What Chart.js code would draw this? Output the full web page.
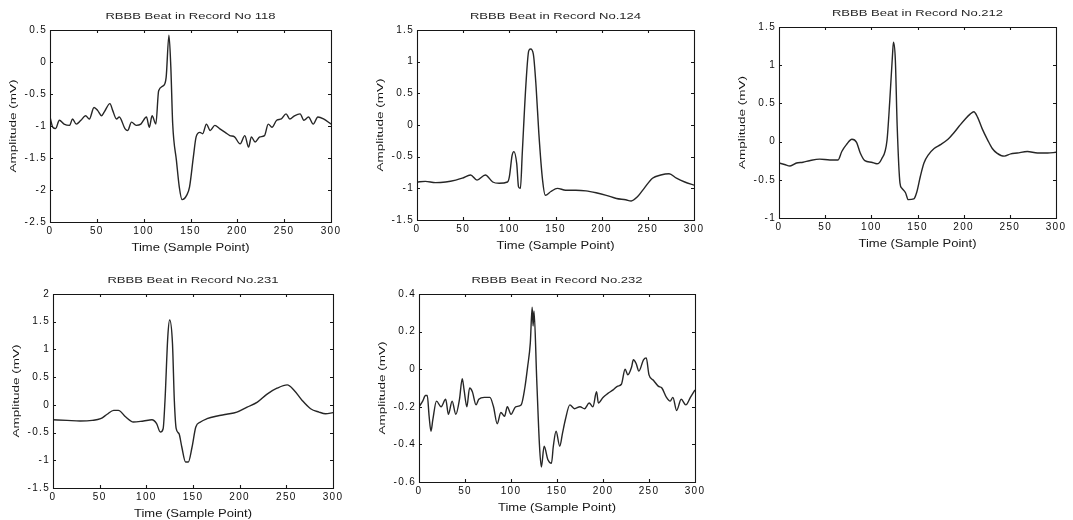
<!DOCTYPE html>
<html>
<head>
<meta charset="utf-8">
<script src="https://cdn.jsdelivr.net/npm/chart.js@4/dist/chart.umd.min.js"></script>
<style>
  html, body { margin: 0; padding: 0; background: #ffffff; }
  #page { position: relative; width: 1073px; height: 520px; overflow: hidden; }
  .panel { position: absolute; }
  .panel canvas { display: block; }
</style>
</head>
<body>
<div id="page"></div>
<script>
// ---- Beat waveforms: sample index and amplitude (mV) ----
const samples118 = [0,3,6,10,15,21,24,28,33,38,42,47,51,55,58,64,67,71,74,80,83,87,92,97,103,106,109,113,116,121,124,127,129,131,135,138,141,146,149,153,156,160,163,167,171,176,181,187,192,197,203,208,212,215,219,224,229,233,237,242,247,252,256,261,267,271,276,281,286,292,300];
const amp118 = [-0.86,-1.02,-1.04,-0.91,-0.97,-0.99,-0.89,-0.97,-0.91,-0.84,-0.89,-0.71,-0.76,-0.84,-0.78,-0.65,-0.76,-0.89,-0.86,-1.04,-1.07,-0.94,-0.99,-0.97,-0.86,-1.02,-0.84,-0.97,-0.45,-0.37,-0.24,0.42,-0.08,-0.97,-1.54,-1.95,-2.15,-2.08,-1.95,-1.49,-1.17,-1.10,-1.12,-0.97,-1.07,-0.99,-1.04,-1.10,-1.15,-1.17,-1.28,-1.15,-1.33,-1.17,-1.25,-1.17,-1.15,-0.97,-1.02,-0.91,-0.89,-0.81,-0.89,-0.84,-0.81,-0.91,-0.86,-0.97,-0.86,-0.89,-0.97];

const samples124 = [0,9,20,31,42,49,58,65,74,82,89,98,100,103,105,108,110,112,114,118,121,123,126,129,132,136,139,145,152,161,172,183,194,205,216,226,232,239,246,255,264,273,281,290,300];
const amp124 = [-0.90,-0.89,-0.91,-0.90,-0.87,-0.84,-0.79,-0.87,-0.79,-0.90,-0.92,-0.90,-0.82,-0.48,-0.42,-0.61,-0.98,-1.00,-0.45,0.65,1.17,1.20,1.12,0.60,-0.14,-0.87,-1.11,-1.05,-1.00,-1.03,-1.03,-1.04,-1.07,-1.11,-1.16,-1.18,-1.20,-1.13,-1.00,-0.84,-0.79,-0.77,-0.84,-0.90,-0.95];

const samples212 = [0,6,12,19,26,33,44,55,64,68,73,79,84,88,93,100,106,111,117,120,123,124,126,128,131,133,137,140,146,149,153,157,162,168,175,182,189,195,202,207,211,215,220,226,231,236,244,251,258,269,280,291,300];
const amp212 = [-0.28,-0.30,-0.32,-0.28,-0.27,-0.25,-0.23,-0.24,-0.24,-0.13,-0.04,0.03,-0.01,-0.15,-0.25,-0.27,-0.29,-0.23,0.02,0.54,1.15,1.30,1.07,0.20,-0.54,-0.61,-0.67,-0.76,-0.75,-0.67,-0.46,-0.28,-0.17,-0.09,-0.04,0.02,0.11,0.20,0.30,0.36,0.39,0.32,0.17,0.02,-0.09,-0.15,-0.19,-0.16,-0.15,-0.13,-0.15,-0.15,-0.14];

const samples231 = [0,15,29,42,51,58,65,70,78,86,97,106,111,115,118,120,123,125,128,130,132,135,138,142,145,149,153,158,165,176,186,197,208,219,229,240,251,258,267,276,285,292,300];
const amp231 = [-0.27,-0.28,-0.29,-0.28,-0.25,-0.17,-0.10,-0.10,-0.22,-0.31,-0.29,-0.27,-0.34,-0.49,-0.43,0.08,1.23,1.53,1.11,0.08,-0.43,-0.52,-0.76,-1.03,-1.03,-0.76,-0.40,-0.31,-0.25,-0.20,-0.17,-0.13,-0.04,0.05,0.19,0.30,0.36,0.27,0.08,-0.07,-0.13,-0.16,-0.14];

const samples232 = [0,4,7,9,11,13,15,19,24,29,32,36,40,44,47,49,52,55,58,62,65,71,77,81,85,89,93,96,100,105,111,115,118,121,123,124,125,128,131,133,136,140,144,146,149,153,156,159,164,169,175,180,185,189,193,195,200,205,211,216,220,224,227,231,233,236,239,244,247,250,255,260,264,269,273,276,280,285,290,295,300];
const amp232 = [-0.20,-0.17,-0.14,-0.14,-0.25,-0.33,-0.27,-0.17,-0.20,-0.16,-0.24,-0.17,-0.24,-0.16,-0.05,-0.11,-0.20,-0.10,-0.12,-0.19,-0.16,-0.15,-0.15,-0.20,-0.29,-0.23,-0.25,-0.20,-0.24,-0.20,-0.19,-0.10,0.01,0.14,0.33,0.23,0.31,-0.06,-0.41,-0.52,-0.41,-0.48,-0.50,-0.41,-0.33,-0.41,-0.34,-0.27,-0.19,-0.21,-0.20,-0.21,-0.18,-0.20,-0.12,-0.18,-0.15,-0.13,-0.11,-0.09,-0.08,0.00,-0.03,0.01,0.05,0.03,-0.01,0.05,0.06,-0.03,-0.06,-0.09,-0.10,-0.15,-0.17,-0.15,-0.22,-0.16,-0.19,-0.15,-0.11];

// ---- Tick values and labels ----
const xTickValues = [0, 50, 100, 150, 200, 250, 300];
const xTickLabels = ['0', '50', '100', '150', '200', '250', '300'];

const yTicks118 = [-2.5, -2, -1.5, -1, -0.5, 0, 0.5];
const yLabels118 = ['-2.5', '-2', '-1.5', '-1', '-0.5', '0', '0.5'];
const yTicks124 = [-1.5, -1, -0.5, 0, 0.5, 1, 1.5];
const yLabels124 = ['-1.5', '-1', '-0.5', '0', '0.5', '1', '1.5'];
const yTicks212 = [-1, -0.5, 0, 0.5, 1, 1.5];
const yLabels212 = ['-1', '-0.5', '0', '0.5', '1', '1.5'];
const yTicks231 = [-1.5, -1, -0.5, 0, 0.5, 1, 1.5, 2];
const yLabels231 = ['-1.5', '-1', '-0.5', '0', '0.5', '1', '1.5', '2'];
const yTicks232 = [-0.6, -0.4, -0.2, 0, 0.2, 0.4];
const yLabels232 = ['-0.6', '-0.4', '-0.2', '0', '0.2', '0.4'];

const titles = ['RBBB Beat in Record No 118', 'RBBB Beat in Record No.124', 'RBBB Beat in Record No.212', 'RBBB Beat in Record No.231', 'RBBB Beat in Record No.232'];
const xAxisTitle = 'Time (Sample Point)';
const yAxisTitle = 'Amplitude (mV)';

// ---- Panel placement: plot box edges on the page ----
const panels = [
  { title: titles[0], xs: samples118, ys: amp118, yt: yTicks118, yl: yLabels118, box: { l: 50,  r: 331,  t: 30,  b: 222 } },
  { title: titles[1], xs: samples124, ys: amp124, yt: yTicks124, yl: yLabels124, box: { l: 417, r: 694,  t: 30,  b: 220 } },
  { title: titles[2], xs: samples212, ys: amp212, yt: yTicks212, yl: yLabels212, box: { l: 779, r: 1056, t: 27,  b: 218 } },
  { title: titles[3], xs: samples231, ys: amp231, yt: yTicks231, yl: yLabels231, box: { l: 53,  r: 333,  t: 294, b: 488 } },
  { title: titles[4], xs: samples232, ys: amp232, yt: yTicks232, yl: yLabels232, box: { l: 419, r: 695,  t: 294, b: 482 } }
];

const LEFT_SPACE = 50, TOP_SPACE = 30, BOTTOM_SPACE = 38, RIGHT_SPACE = 14;
const FONT = "'Liberation Sans', Arial, Helvetica, sans-serif";

// Wide, Helvetica-like lettering: stretch captions along their reading
// direction and open up the tick numerals a little.
const stretchCaptions = {
  id: 'stretchCaptions',
  beforeDraw(chart, args, opts) {
    const tb = chart.titleBlock;
    if (tb && !tb._stretchWrapped) {
      const origDraw = tb.draw;
      tb.draw = function (area) {
        const ctx = this.ctx, ca = chart.chartArea;
        const cx = (ca.left + ca.right) / 2, tcx = (this.left + this.right) / 2;
        ctx.save();
        ctx.translate(cx, 0); ctx.scale(opts.title, 1); ctx.translate(-tcx, 0);
        origDraw.call(this, area);
        ctx.restore();
      };
      tb._stretchWrapped = true;
    }
    Object.values(chart.scales).forEach(s => {
      if (s._stretchWrapped) return;
      const origTitle = s.drawTitle;
      s.drawTitle = function () {
        const ctx = this.ctx;
        ctx.save();
        if (this.isHorizontal()) {
          const cx = (this.left + this.right) / 2;
          ctx.translate(cx, 0); ctx.scale(opts.axisX, 1); ctx.translate(-cx, 0);
        } else {
          const cy = (this.top + this.bottom) / 2;
          ctx.translate(0, cy); ctx.scale(1, opts.axisY); ctx.translate(0, -cy);
        }
        origTitle.call(this);
        ctx.restore();
      };
      const origLabels = s.drawLabels;
      s.drawLabels = function (area) {
        const ctx = this.ctx;
        ctx.save();
        ctx.letterSpacing = opts.tickSpacing + 'px';
        origLabels.call(this, area);
        ctx.restore();
      };
      s._stretchWrapped = true;
    });
  }
};

// Boxed axes with short inward tick marks on all four sides.
const boxedAxes = {
  id: 'boxedAxes',
  afterDraw(chart) {
    const { ctx, chartArea: a, scales: { x, y } } = chart;
    const len = 3;
    ctx.save();
    ctx.strokeStyle = '#161616';
    ctx.lineWidth = 1.1;
    ctx.beginPath();
    ctx.rect(Math.round(a.left) + 0.5, Math.round(a.top) + 0.5, Math.round(a.right - a.left), Math.round(a.bottom - a.top));
    x.ticks.forEach(t => {
      const px = Math.round(x.getPixelForValue(t.value)) + 0.5;
      ctx.moveTo(px, a.bottom); ctx.lineTo(px, a.bottom - len);
      ctx.moveTo(px, a.top); ctx.lineTo(px, a.top + len);
    });
    y.ticks.forEach(t => {
      const py = Math.round(y.getPixelForValue(t.value)) + 0.5;
      ctx.moveTo(a.left, py); ctx.lineTo(a.left + len, py);
      ctx.moveTo(a.right, py); ctx.lineTo(a.right - len, py);
    });
    ctx.stroke();
    ctx.restore();
  }
};

const page = document.getElementById('page');

panels.forEach(p => {
  const w = (p.box.r - p.box.l) + LEFT_SPACE + RIGHT_SPACE;
  const h = (p.box.b - p.box.t) + TOP_SPACE + BOTTOM_SPACE;
  const div = document.createElement('div');
  div.className = 'panel';
  div.style.left = (p.box.l - LEFT_SPACE) + 'px';
  div.style.top = (p.box.t - TOP_SPACE) + 'px';
  div.style.width = w + 'px';
  div.style.height = h + 'px';
  const cv = document.createElement('canvas');
  cv.width = w; cv.height = h;
  cv.style.width = w + 'px'; cv.style.height = h + 'px';
  div.appendChild(cv);
  page.appendChild(div);

  const points = p.xs.map((sx, i) => ({ x: sx, y: p.ys[i] }));
  const yMin = p.yt[0], yMax = p.yt[p.yt.length - 1];

  new Chart(cv, {
    type: 'line',
    data: {
      datasets: [{
        data: points,
        borderColor: '#262626',
        borderWidth: 1.4,
        pointRadius: 0,
        cubicInterpolationMode: 'monotone',
        fill: false
      }]
    },
    options: {
      responsive: false,
      animation: false,
      events: [],
      layout: { padding: { left: 0, right: RIGHT_SPACE, top: 0, bottom: 0 } },
      plugins: {
        legend: { display: false },
        tooltip: { enabled: false },
        title: {
          display: true,
          text: p.title,
          color: '#262626',
          font: { family: FONT, size: 9, weight: 'normal', lineHeight: 1.2 },
          padding: { top: 11.6, bottom: TOP_SPACE - 10.8 - 11.6 }
        },
        stretchCaptions: { title: 1.45, axisX: 1.3, axisY: 1.42, tickSpacing: 1.3 }
      },
      scales: {
        x: {
          type: 'linear',
          min: 0, max: 300,
          afterBuildTicks: s => { s.ticks = xTickValues.map(v => ({ value: v })); },
          afterFit: s => { s.height = BOTTOM_SPACE; },
          grid: { display: false, drawTicks: false },
          border: { display: false },
          ticks: {
            padding: 3,
            color: '#0d0d0d',
            font: { family: FONT, size: 10 },
            maxRotation: 0,
            autoSkip: false,
            callback: (v) => xTickLabels[xTickValues.indexOf(v)]
          },
          title: {
            display: true,
            text: xAxisTitle,
            color: '#161616',
            font: { family: FONT, size: 10, lineHeight: 1.2 },
            padding: { top: 0, bottom: 6 }
          }
        },
        y: {
          type: 'linear',
          min: yMin, max: yMax,
          afterBuildTicks: s => { s.ticks = p.yt.map(v => ({ value: v })); },
          afterFit: s => { s.width = LEFT_SPACE; },
          grid: { display: false, drawTicks: false },
          border: { display: false },
          ticks: {
            padding: 3,
            color: '#0d0d0d',
            font: { family: FONT, size: 10 },
            autoSkip: false,
            callback: (v) => p.yl[p.yt.indexOf(v)]
          },
          title: {
            display: true,
            text: yAxisTitle,
            color: '#161616',
            font: { family: FONT, size: 9.5, lineHeight: 1.2 },
            padding: { top: 8, bottom: 0 }
          }
        }
      }
    },
    plugins: [stretchCaptions, boxedAxes]
  });
});
</script>
</body>
</html>
